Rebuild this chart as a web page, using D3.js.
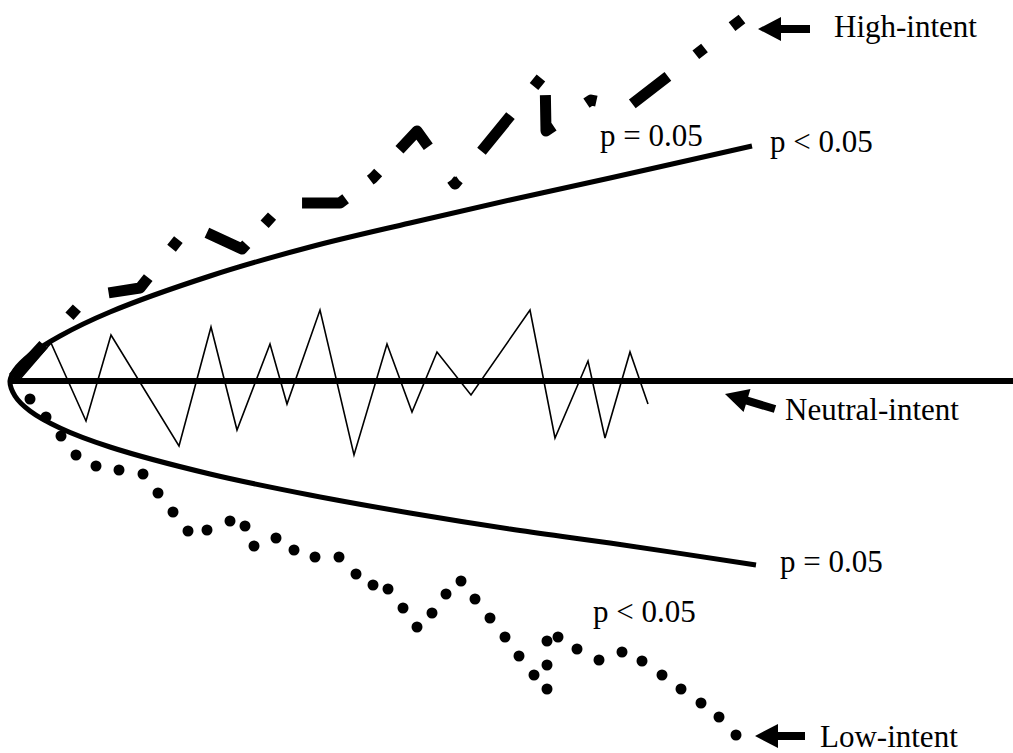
<!DOCTYPE html>
<html>
<head>
    <meta charset="utf-8">
    <title>Intent paths</title>
    <script src="https://cdnjs.cloudflare.com/ajax/libs/d3/7.8.5/d3.min.js"></script>
    <style>
        body { margin: 0; background: #fff; }
        text { font-family: "Liberation Serif", "Times New Roman", serif; font-size: 31px; fill: #000; }
    </style>
</head>

<body>

<script type="text/javascript">
    var width = 1013,
        height = 753;

    // neutral-intent zigzag (time, deviation)
    var neutralX = [1.0, 4.1, 7.6, 10.1, 16.9, 20.1, 22.7, 26.0, 27.7, 31.0, 34.4, 37.7, 40.2, 42.7, 46.1, 52.0, 54.5, 57.8, 59.5, 62.0, 63.8];
    var neutralY = [0.2, 3.8, -4.0, 4.6, -6.5, 5.4, -4.9, 3.7, -2.3, 7.1, -7.4, 3.7, -3.1, 2.9, -1.4, 7.1, -5.7, 2.0, -5.7, 2.9, -2.3];

    // reference (zero) line
    var baseX = [0.2, 100.3];
    var baseY = [0, 0];

    // significance boundaries
    var upperX = [0, 0.5, 2, 5, 10, 20, 30, 40, 50, 60, 74.2];
    var upperY = [0, 1.1, 2.6, 4.5, 6.9, 10.5, 13.4, 15.8, 18.1, 20.3, 23.5];
    var lowerX = [0, 0.5, 2, 5, 10, 20, 30, 40, 50, 60, 74.6];
    var lowerY = [0, -1.5, -3.0, -4.7, -6.6, -9.3, -11.4, -13.2, -14.8, -16.2, -18.4];

    // high-intent path
    var highX = [0.1, 7.8, 13.0, 18.0, 23.2, 27.4, 33.0, 36.3, 40.7, 44.5, 53.5, 53.6, 58.1, 61.7, 73.2];
    var highY = [0.1, 8.5, 9.3, 15.6, 13.2, 17.8, 17.8, 20.3, 25.0, 19.7, 30.8, 25.0, 28.1, 27.3, 36.2];

    // low-intent dots
    var lowX = [2.0, 3.6, 5.1, 6.6, 8.6, 10.9, 13.3, 14.8, 16.3, 17.8, 19.7, 22.0, 23.5, 24.4, 26.6, 28.4, 30.5, 32.9, 34.6, 36.3, 37.8, 39.3,
                40.7, 42.2, 43.6, 45.1, 46.5, 48.0, 49.5, 50.9, 52.4, 53.7, 53.7, 53.7, 54.8, 56.7, 58.9, 61.2, 63.2, 65.2, 67.1, 69.1, 70.9, 72.6];
    var lowY = [-1.8, -3.6, -5.5, -7.4, -8.5, -8.9, -9.3, -11.2, -13.1, -15.0, -14.9, -14.0, -14.5, -16.5, -15.7, -16.9, -17.6, -17.6, -19.3, -20.4, -20.8, -22.7,
                -24.6, -23.2, -21.3, -20.0, -21.8, -23.7, -25.6, -27.5, -29.4, -30.8, -28.4, -26.0, -25.6, -26.8, -27.9, -27.1, -28.0, -29.4, -30.8, -32.2, -33.6, -35.4];

    // labels
    var labelText = ["High-intent", "p = 0.05", "p < 0.05", "Neutral-intent", "p = 0.05", "p < 0.05", "Low-intent"];
    var labelX = [82.4, 59.0, 76.0, 77.5, 77.0, 58.3, 81.0];
    var labelY = [34.4, 23.5, 22.9, -3.9, -19.1, -24.1, -36.6];

    // arrows: tip and tail
    var arrowTip = [[74.8, 35.2], [71.5, -1.3], [74.5, -35.5]];
    var arrowTail = [[80.0, 35.2], [76.5, -2.8], [79.5, -35.5]];

    // dash-dot rhythm of the high-intent stroke (px along the path)
    var highDash = "0 3 45 38.5 11 37.3 45 37.5 11 37.3 45 27.2 11 35.8 45 30.9 11 31.2 " +
                   "45 40.3 11 36.6 46 37.4 11 28.5 45 40.1 11 38.1 45 35.3 11 34.8 45 1000";

    var svg = d3.select("body").append("svg")
            .attr("width", width)
            .attr("height", height);

    svg.append("rect")
        .attr("width", width)
        .attr("height", height)
        .attr("fill", "#fff");

    var xScale = d3.scaleLinear()
            .domain([0, 100])
            .range([10, 1010]),
        yScale = d3.scaleLinear()
            .domain([-37, 38])
            .range([751, 1]);

    function zip(xs, ys) {
        return xs.map(function (x, i) { return [x, ys[i]]; });
    }

    var line = d3.line()
        .x(function (d) { return xScale(d[0]); })
        .y(function (d) { return yScale(d[1]); });

    // zero line
    svg.append("path")
        .attr("d", line(zip(baseX, baseY)))
        .attr("fill", "none")
        .attr("stroke", "#000")
        .attr("stroke-width", 6);

    // neutral zigzag
    svg.append("path")
        .attr("d", line(zip(neutralX, neutralY)))
        .attr("fill", "none")
        .attr("stroke", "#000")
        .attr("stroke-width", 1.6)
        .attr("stroke-linejoin", "miter");

    // boundary: lower end -> vertex -> upper end
    var boundary = zip(lowerX, lowerY).reverse().concat(zip(upperX, upperY).slice(1));
    var smooth = d3.line()
        .x(function (d) { return xScale(d[0]); })
        .y(function (d) { return yScale(d[1]); })
        .curve(d3.curveCatmullRom.alpha(0.5));

    svg.append("path")
        .attr("d", smooth(boundary))
        .attr("fill", "none")
        .attr("stroke", "#000")
        .attr("stroke-width", 5);

    // high-intent dash-dot
    svg.append("path")
        .attr("d", line(zip(highX, highY)))
        .attr("fill", "none")
        .attr("stroke", "#000")
        .attr("stroke-width", 11)
        .attr("stroke-linejoin", "round")
        .attr("stroke-dasharray", highDash);

    // low-intent dots
    svg.selectAll("circle.low")
        .data(zip(lowX, lowY))
        .enter()
            .append("circle")
            .attr("class", "low")
            .attr("cx", function (d) { return xScale(d[0]); })
            .attr("cy", function (d) { return yScale(d[1]); })
            .attr("r", 5.5)
            .attr("fill", "#000");

    // arrows
    function arrowPoints(tip, tail) {
        var tx = xScale(tip[0]), ty = yScale(tip[1]),
            sx = xScale(tail[0]), sy = yScale(tail[1]);
        var len = Math.hypot(tx - sx, ty - sy),
            ux = (tx - sx) / len, uy = (ty - sy) / len,
            nx = -uy, ny = ux;
        var head = 23, hw = 12, sw = 4;
        var bx = tx - ux * head, by = ty - uy * head;
        return [
            [tx, ty],
            [bx + nx * hw, by + ny * hw],
            [bx + nx * sw, by + ny * sw],
            [sx + nx * sw, sy + ny * sw],
            [sx - nx * sw, sy - ny * sw],
            [bx - nx * sw, by - ny * sw],
            [bx - nx * hw, by - ny * hw]
        ].map(function (p) { return p.join(","); }).join(" ");
    }

    svg.selectAll("polygon.arrow")
        .data(arrowTip)
        .enter()
            .append("polygon")
            .attr("class", "arrow")
            .attr("points", function (d, i) { return arrowPoints(d, arrowTail[i]); })
            .attr("fill", "#000");

    // labels
    svg.selectAll("text.label")
        .data(labelText)
        .enter()
            .append("text")
            .attr("class", "label")
            .attr("x", function (d, i) { return xScale(labelX[i]); })
            .attr("y", function (d, i) { return yScale(labelY[i]); })
            .text(function (d) { return d; });
</script>

</body>

</html>
